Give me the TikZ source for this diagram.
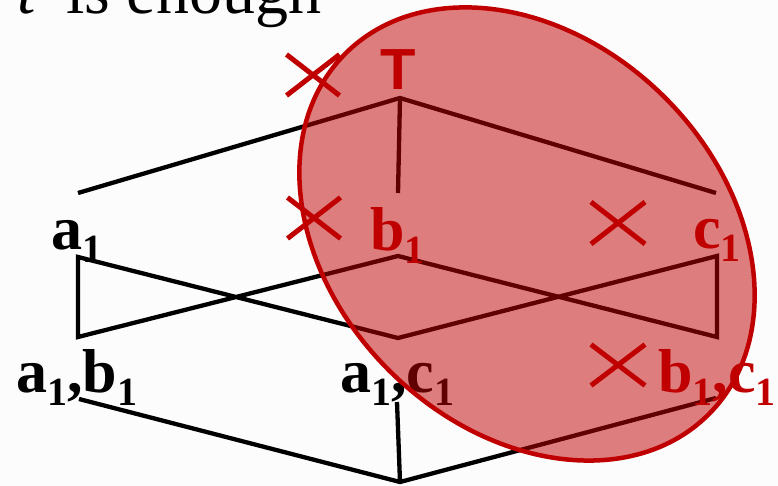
\documentclass[tikz,border=0pt]{standalone}
\usepackage{fontspec}
\setmainfont{Liberation Serif}
\newfontfamily\sansfam{Liberation Sans}
\usetikzlibrary{shapes.misc}
\definecolor{dred}{RGB}{192,0,0}
\definecolor{bgc}{RGB}{252,252,252}
\newcommand\labfont{\fontsize{62}{62}\selectfont\bfseries}
\newcommand\sbn[1]{\raisebox{-0.21em}{\fontsize{40}{40}\selectfont #1}}
\tikzset{
  lattice/.style={line width=4.3pt, line join=miter, black},
  lab/.style={anchor=base west, inner sep=0pt, font=\labfont},
  redlab/.style={lab, text=dred},
  xmark/.style={cross out, draw=dred, line width=5pt, inner sep=0pt, minimum width=48pt, minimum height=36pt},
  blob/.style={draw=dred, line width=4.5pt, fill=dred, fill opacity=0.5}
}
\begin{document}
\begin{tikzpicture}[x=1pt,y=-1pt]
\useasboundingbox (0,0) rectangle (778,486);
\fill[bgc] (0,0) rectangle (778,486);

% heading (cut by the top edge, as in the reference)
\node[anchor=base west, inner sep=0pt, font=\fontsize{66}{66}\selectfont\itshape] (tt) at (17,14) {t};
\node[anchor=base west, inner sep=0pt, font=\fontsize{66}{66}\selectfont] (enough) at (66,14) {is enough};

% lattice coordinates
\coordinate (T) at (400,98);
\coordinate (L1) at (78,193);
\coordinate (M1) at (398,193);
\coordinate (R1) at (716,193);
\coordinate (A) at (78,257);
\coordinate (B) at (398,256);
\coordinate (C) at (717,256);
\coordinate (AB) at (78,337);
\coordinate (AC) at (398,338);
\coordinate (BC) at (717,337);
\coordinate (AB2) at (79,399);
\coordinate (AC2) at (397,402);
\coordinate (BC2) at (716,398);
\coordinate (Bot) at (400,482);

\draw[lattice] (L1) -- (T) -- (R1);
\draw[lattice] (T) -- (M1);
\draw[lattice] (AC) -- (A) -- (AB) -- (B) -- (BC) -- (C) -- cycle;
\draw[lattice] (AB2) -- (Bot) -- (BC2);
\draw[lattice] (AC2) -- (Bot);

% black labels
\node[lab] (la) at (51,249) {a\sbn{1}};
\node[lab] (lab) at (16,392) {a\sbn{1},b\sbn{1}};
\node[lab] (lac) at (340,392) {a\sbn{1},c\sbn{1}};

% ellipse
\coordinate (E) at (527,234);
\draw[blob, rotate around={-44.5:(E)}] (E) ellipse [x radius=256, y radius=194];

% red labels
\node[anchor=base, inner sep=0pt, text=dred, font=\fontsize{58}{58}\selectfont\sansfam\bfseries] (lT) at (398,90) {T};
\node[redlab] (lb) at (370,250) {b\sbn{1}};
\node[redlab] (lc) at (693,248) {c\sbn{1}};
\node[redlab] (lbc) at (658,392) {b\sbn{1},c\sbn{1}};

% crosses
\node[xmark] (x1) at (313,75) {};
\node[xmark] (x2) at (314,218) {};
\node[xmark, minimum width=49pt, minimum height=37pt] (x3) at (618,223) {};
\node[xmark, minimum width=49pt, minimum height=36pt] (x4) at (618,365) {};
\end{tikzpicture}
\end{document}
